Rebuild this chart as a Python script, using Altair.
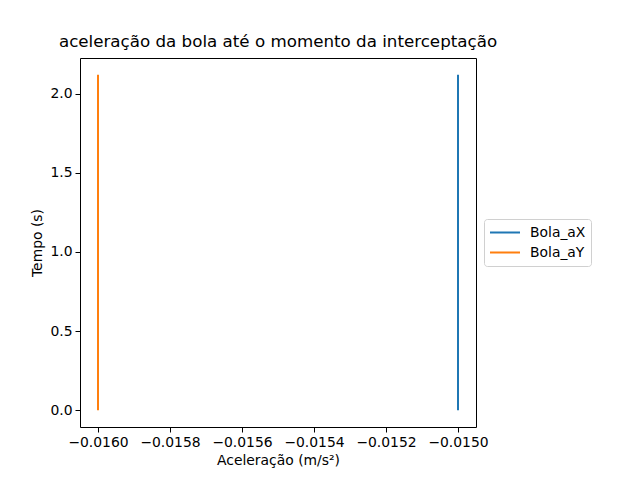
import altair as alt
import pandas as pd

series = ["Bola_aX", "Bola_aY"]
accel = [-0.0150, -0.0160]
times = [0.0, 2.12]
colors = ["#1f77b4", "#ff7f0e"]

rows = []
for s, a in zip(series, accel):
    for t in times:
        rows.append({"serie": s, "acc": a, "t": t})
df = pd.DataFrame(rows)

xticks = [-0.0160, -0.0158, -0.0156, -0.0154, -0.0152, -0.0150]
yticks = [0.0, 0.5, 1.0, 1.5, 2.0]

font = "DejaVu Sans"

chart = alt.Chart(df).mark_line(strokeWidth=2).encode(
    x=alt.X("acc:Q", title="Aceleração (m/s²)",
            scale=alt.Scale(domain=[-0.01605, -0.01495], nice=False, zero=False),
            axis=alt.Axis(values=xticks, format=".4f", grid=False)),
    y=alt.Y("t:Q", title="Tempo (s)",
            scale=alt.Scale(domain=[-0.106, 2.226], nice=False, zero=False),
            axis=alt.Axis(values=yticks, format=".1f", grid=False)),
    color=alt.Color("serie:N", title=None,
                    scale=alt.Scale(domain=series, range=colors),
                    legend=alt.Legend(orient="none", legendX=404, legendY=161,
                                      symbolType="stroke", symbolSize=900,
                                      symbolStrokeWidth=2, clipHeight=17,
                                      rowPadding=3,
                                      labelFontSize=13.9, labelFont=font,
                                      labelColor="black", labelOffset=9,
                                      padding=5, strokeColor="#d0d0d0",
                                      cornerRadius=3, fillColor="white")),
    detail="serie:N",
).properties(
    width=396, height=369,
    title=alt.Title("aceleração da bola até o momento da interceptação",
                    font=font, fontSize=16.7, fontWeight="normal", color="black",
                    anchor="middle", offset=7),
    autosize=alt.AutoSizeParams(type="none"),
    padding={"left": 80, "top": 58, "right": 164, "bottom": 53},
).configure_view(
    stroke="black", strokeWidth=1
).configure_axis(
    domain=False, tickColor="black", tickSize=5, tickWidth=1,
    labelFont=font, labelFontSize=13.9, labelColor="black", labelPadding=3,
    titleFont=font, titleFontSize=13.9, titleFontWeight="normal", titleColor="black",
    titlePadding=5,
)

chart.save("out.html", embed_options={"renderer": "svg", "actions": False})
